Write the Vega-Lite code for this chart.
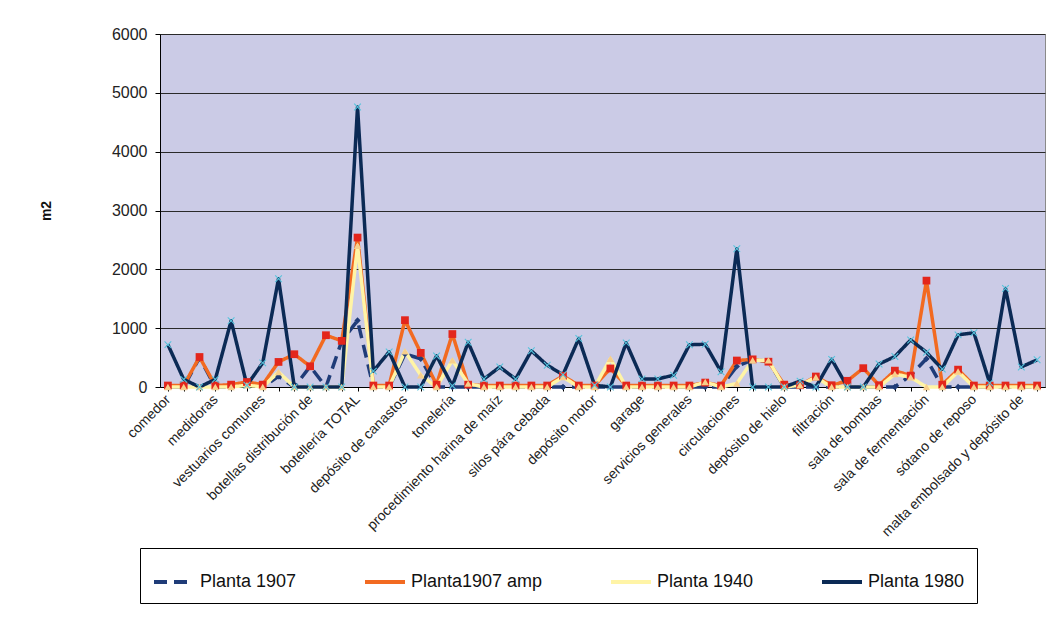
{
  "$schema": "https://vega.github.io/schema/vega-lite/v6.json",
  "width": 885,
  "height": 353,
  "autosize": "none",
  "padding": {"left": 160, "top": 34, "right": 17, "bottom": 240},
  "background": "white",
  "data": {
    "values": [
      {"espacio": "comedor", "Planta 1907": 0, "Planta1907 amp": 25, "Planta 1940": 0, "Planta 1980": 720},
      {"espacio": "(sin rótulo 2)", "Planta 1907": 0, "Planta1907 amp": 25, "Planta 1940": 0, "Planta 1980": 130},
      {"espacio": "(sin rótulo 3)", "Planta 1907": 500, "Planta1907 amp": 510, "Planta 1940": 0, "Planta 1980": 0},
      {"espacio": "medidoras", "Planta 1907": 0, "Planta1907 amp": 25, "Planta 1940": 0, "Planta 1980": 130},
      {"espacio": "(sin rótulo 5)", "Planta 1907": 0, "Planta1907 amp": 40, "Planta 1940": 0, "Planta 1980": 1125},
      {"espacio": "(sin rótulo 6)", "Planta 1907": 50, "Planta1907 amp": 85, "Planta 1940": 30, "Planta 1980": 30},
      {"espacio": "vestuarios comunes", "Planta 1907": 0, "Planta1907 amp": 40, "Planta 1940": 0, "Planta 1980": 410},
      {"espacio": "(sin rótulo 8)", "Planta 1907": 180, "Planta1907 amp": 426, "Planta 1940": 255, "Planta 1980": 1840},
      {"espacio": "(sin rótulo 9)", "Planta 1907": 0, "Planta1907 amp": 557, "Planta 1940": 0, "Planta 1980": 0},
      {"espacio": "botellas distribución de", "Planta 1907": 350, "Planta1907 amp": 352, "Planta 1940": 0, "Planta 1980": 0},
      {"espacio": "(sin rótulo 11)", "Planta 1907": 0, "Planta1907 amp": 880, "Planta 1940": 0, "Planta 1980": 0},
      {"espacio": "(sin rótulo 12)", "Planta 1907": 780, "Planta1907 amp": 784, "Planta 1940": 0, "Planta 1980": 0},
      {"espacio": "botellería TOTAL", "Planta 1907": 1130, "Planta1907 amp": 2540, "Planta 1940": 2400, "Planta 1980": 4760},
      {"espacio": "(sin rótulo 14)", "Planta 1907": 0, "Planta1907 amp": 25, "Planta 1940": 0, "Planta 1980": 270},
      {"espacio": "(sin rótulo 15)", "Planta 1907": 0, "Planta1907 amp": 25, "Planta 1940": 0, "Planta 1980": 597},
      {"espacio": "depósito de canastos", "Planta 1907": 560, "Planta1907 amp": 1136, "Planta 1940": 608, "Planta 1980": 0},
      {"espacio": "(sin rótulo 17)", "Planta 1907": 480, "Planta1907 amp": 580, "Planta 1940": 200, "Planta 1980": 0},
      {"espacio": "(sin rótulo 18)", "Planta 1907": 0, "Planta1907 amp": 40, "Planta 1940": 0, "Planta 1980": 528},
      {"espacio": "tonelería", "Planta 1907": 0, "Planta1907 amp": 900, "Planta 1940": 455, "Planta 1980": 20},
      {"espacio": "(sin rótulo 20)", "Planta 1907": 0, "Planta1907 amp": 40, "Planta 1940": 57, "Planta 1980": 760},
      {"espacio": "(sin rótulo 21)", "Planta 1907": 0, "Planta1907 amp": 25, "Planta 1940": 0, "Planta 1980": 135},
      {"espacio": "procedimiento harina de maíz", "Planta 1907": 0, "Planta1907 amp": 25, "Planta 1940": 0, "Planta 1980": 340},
      {"espacio": "(sin rótulo 23)", "Planta 1907": 0, "Planta1907 amp": 25, "Planta 1940": 0, "Planta 1980": 135},
      {"espacio": "(sin rótulo 24)", "Planta 1907": 0, "Planta1907 amp": 25, "Planta 1940": 0, "Planta 1980": 615},
      {"espacio": "silos pára cebada", "Planta 1907": 0, "Planta1907 amp": 25, "Planta 1940": 0, "Planta 1980": 370},
      {"espacio": "(sin rótulo 26)", "Planta 1907": 0, "Planta1907 amp": 190, "Planta 1940": 170, "Planta 1980": 210},
      {"espacio": "(sin rótulo 27)", "Planta 1907": 0, "Planta1907 amp": 25, "Planta 1940": 0, "Planta 1980": 825},
      {"espacio": "depósito motor", "Planta 1907": 0, "Planta1907 amp": 25, "Planta 1940": 0, "Planta 1980": 30},
      {"espacio": "(sin rótulo 29)", "Planta 1907": 0, "Planta1907 amp": 315, "Planta 1940": 480, "Planta 1980": 0},
      {"espacio": "(sin rótulo 30)", "Planta 1907": 0, "Planta1907 amp": 25, "Planta 1940": 0, "Planta 1980": 750},
      {"espacio": "garage", "Planta 1907": 0, "Planta1907 amp": 25, "Planta 1940": 0, "Planta 1980": 138},
      {"espacio": "(sin rótulo 32)", "Planta 1907": 0, "Planta1907 amp": 25, "Planta 1940": 0, "Planta 1980": 138},
      {"espacio": "(sin rótulo 33)", "Planta 1907": 0, "Planta1907 amp": 25, "Planta 1940": 0, "Planta 1980": 200},
      {"espacio": "servicios generales", "Planta 1907": 0, "Planta1907 amp": 25, "Planta 1940": 0, "Planta 1980": 718},
      {"espacio": "(sin rótulo 35)", "Planta 1907": 0, "Planta1907 amp": 75, "Planta 1940": 85, "Planta 1980": 727},
      {"espacio": "(sin rótulo 36)", "Planta 1907": 0, "Planta1907 amp": 25, "Planta 1940": 0, "Planta 1980": 260},
      {"espacio": "circulaciones", "Planta 1907": 350, "Planta1907 amp": 450, "Planta 1940": 60, "Planta 1980": 2350},
      {"espacio": "(sin rótulo 38)", "Planta 1907": 460, "Planta1907 amp": 470, "Planta 1940": 455, "Planta 1980": 0},
      {"espacio": "(sin rótulo 39)", "Planta 1907": 440, "Planta1907 amp": 430, "Planta 1940": 455, "Planta 1980": 0},
      {"espacio": "depósito de hielo", "Planta 1907": 0, "Planta1907 amp": 40, "Planta 1940": 0, "Planta 1980": 0},
      {"espacio": "(sin rótulo 41)", "Planta 1907": 0, "Planta1907 amp": 30, "Planta 1940": 30, "Planta 1980": 100},
      {"espacio": "(sin rótulo 42)", "Planta 1907": 0, "Planta1907 amp": 178, "Planta 1940": 165, "Planta 1980": 0},
      {"espacio": "filtración", "Planta 1907": 0, "Planta1907 amp": 30, "Planta 1940": 0, "Planta 1980": 470},
      {"espacio": "(sin rótulo 44)", "Planta 1907": 0, "Planta1907 amp": 105, "Planta 1940": 0, "Planta 1980": 0},
      {"espacio": "(sin rótulo 45)", "Planta 1907": 0, "Planta1907 amp": 320, "Planta 1940": 0, "Planta 1980": 0},
      {"espacio": "sala de bombas", "Planta 1907": 0, "Planta1907 amp": 30, "Planta 1940": 0, "Planta 1980": 390},
      {"espacio": "(sin rótulo 47)", "Planta 1907": 0, "Planta1907 amp": 278, "Planta 1940": 220, "Planta 1980": 518},
      {"espacio": "(sin rótulo 48)", "Planta 1907": 200, "Planta1907 amp": 193, "Planta 1940": 165, "Planta 1980": 800},
      {"espacio": "sala de fermentación", "Planta 1907": 480, "Planta1907 amp": 1808, "Planta 1940": 0, "Planta 1980": 590},
      {"espacio": "(sin rótulo 50)", "Planta 1907": 0, "Planta1907 amp": 40, "Planta 1940": 0, "Planta 1980": 305},
      {"espacio": "(sin rótulo 51)", "Planta 1907": 0, "Planta1907 amp": 295, "Planta 1940": 262, "Planta 1980": 886},
      {"espacio": "sótano de reposo", "Planta 1907": 0, "Planta1907 amp": 25, "Planta 1940": 0, "Planta 1980": 922},
      {"espacio": "(sin rótulo 53)", "Planta 1907": 0, "Planta1907 amp": 25, "Planta 1940": 0, "Planta 1980": 70},
      {"espacio": "(sin rótulo 54)", "Planta 1907": 0, "Planta1907 amp": 25, "Planta 1940": 0, "Planta 1980": 1675},
      {"espacio": "malta embolsado y depósito de", "Planta 1907": 0, "Planta1907 amp": 25, "Planta 1940": 0, "Planta 1980": 340},
      {"espacio": "(sin rótulo 56)", "Planta 1907": 0, "Planta1907 amp": 25, "Planta 1940": 0, "Planta 1980": 462}
    ]
  },
  "transform": [
    {"fold": ["Planta 1907", "Planta1907 amp", "Planta 1940", "Planta 1980"], "as": ["serie", "m2"]}
  ],
  "encoding": {
    "x": {
      "field": "espacio",
      "type": "nominal",
      "sort": null,
      "scale": {"type": "point", "padding": 0.5},
      "title": null,
      "axis": {
        "labelExpr": "indexof(datum.value, '(sin') === 0 ? '' : datum.label",
        "labelAngle": -45,
        "labelAlign": "right",
        "labelBaseline": "middle",
        "labelFont": "Liberation Sans",
        "labelFontSize": 14,
        "labelColor": "#222222",
        "labelPadding": 6,
        "labelOverlap": false,
        "labelLimit": 400,
        "labelBound": false,
        "tickColor": "black",
        "tickSize": 4,
        "domainColor": "black",
        "grid": false
      }
    },
    "y": {
      "field": "m2",
      "type": "quantitative",
      "scale": {"domain": [0, 6000], "nice": false, "zero": true},
      "axis": {
        "values": [0, 1000, 2000, 3000, 4000, 5000, 6000],
        "format": "d",
        "title": "m2",
        "titleFont": "Liberation Sans",
        "titleFontSize": 14,
        "titleFontWeight": "bold",
        "titleColor": "#111111",
        "titlePadding": 58,
        "labelFont": "Liberation Sans",
        "labelFontSize": 16,
        "labelColor": "#222222",
        "labelPadding": 8,
        "tickColor": "black",
        "tickSize": 5,
        "domainColor": "black",
        "grid": true,
        "gridColor": "#2a2a2a",
        "gridWidth": 1.2
      }
    }
  },
  "layer": [
    {
      "mark": {"type": "line", "strokeWidth": 3.5, "strokeJoin": "round"},
      "encoding": {
        "stroke": {
          "field": "serie",
          "type": "nominal",
          "scale": {
            "domain": ["Planta 1907", "Planta1907 amp", "Planta 1940", "Planta 1980"],
            "range": ["#1f3c78", "#f26a21", "#fff4a6", "#0b2a55"]
          },
          "legend": {
            "orient": "none",
            "legendX": -20,
            "legendY": 514,
            "direction": "horizontal",
            "columns": 4,
            "columnPadding": 60,
            "strokeColor": "black",
            "fillColor": "white",
            "padding": 12,
            "title": null,
            "symbolType": "stroke",
            "symbolSize": 1600,
            "symbolStrokeWidth": 4,
            "labelFont": "Liberation Sans",
            "labelFontSize": 18,
            "labelColor": "#111111",
            "labelOffset": 4
          }
        },
        "strokeDash": {
          "field": "serie",
          "type": "nominal",
          "scale": {
            "domain": ["Planta 1907", "Planta1907 amp", "Planta 1940", "Planta 1980"],
            "range": [[13, 7], [1, 0], [1, 0], [1, 0]]
          }
        }
      }
    },
    {
      "transform": [{"filter": {"field": "serie", "equal": "Planta 1907"}}],
      "mark": {"type": "point", "filled": true, "opacity": 1, "strokeWidth": 0, "shape": "diamond", "fill": "#1f3c78", "size": 40}
    },
    {
      "transform": [{"filter": {"field": "serie", "equal": "Planta1907 amp"}}],
      "mark": {"type": "point", "filled": true, "opacity": 1, "strokeWidth": 0, "shape": "square", "fill": "#e3261c", "size": 60}
    },
    {
      "transform": [{"filter": {"field": "serie", "equal": "Planta 1940"}}],
      "mark": {"type": "point", "filled": true, "opacity": 1, "strokeWidth": 0, "shape": "triangle-up", "fill": "#f7cf8c", "size": 55}
    },
    {
      "transform": [{"filter": {"field": "serie", "equal": "Planta 1980"}}],
      "mark": {"type": "point", "filled": true, "opacity": 1, "strokeWidth": 0, "shape": "M-1,-0.8L-0.8,-1L0,-0.2L0.8,-1L1,-0.8L0.2,0L1,0.8L0.8,1L0,0.2L-0.8,1L-1,0.8L-0.2,0Z", "fill": "#56c4dc", "size": 55}
    }
  ],
  "config": {
    "view": {"fill": "#cbcbe6", "stroke": "#8a8a8a", "strokeWidth": 1}
  }
}
